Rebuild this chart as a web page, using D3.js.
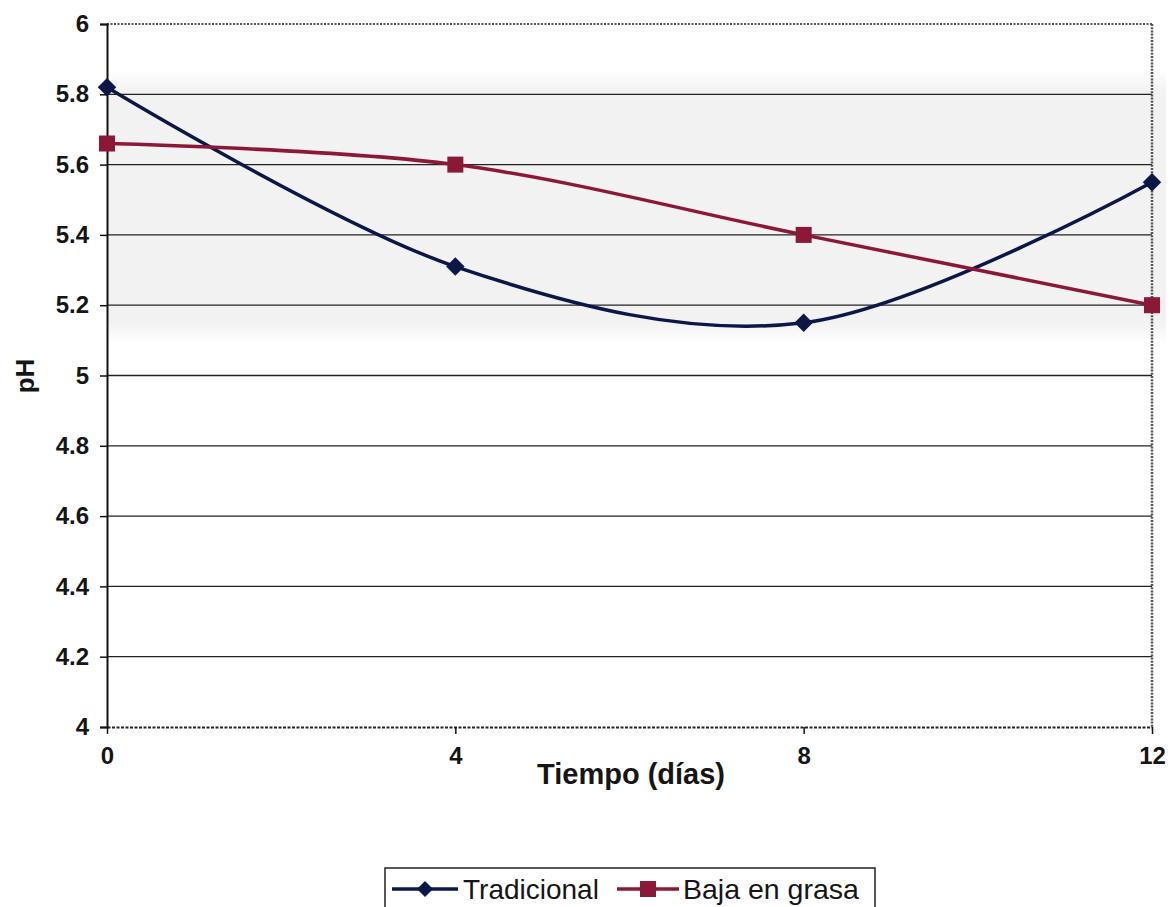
<!DOCTYPE html>
<html>
<head>
<meta charset="utf-8">
<script src="https://cdn.jsdelivr.net/npm/d3@7"></script>
<style>
  html, body { margin: 0; padding: 0; background: #fff; }
  svg { display: block; font-family: "Liberation Sans", Arial, sans-serif; }
  .axis-label { font-size: 24px; font-weight: bold; fill: #151515; font-family: "Liberation Sans", Arial, sans-serif; }
</style>
</head>
<body>
<svg id="chart" width="1171" height="907"></svg>
<script>
// pH evolution over storage time for two sausage formulations
const dias = [0, 4, 8, 12];
const tradicional = [5.82, 5.31, 5.15, 5.55];
const bajaEnGrasa = [5.66, 5.60, 5.40, 5.20];
const yTicks = [4, 4.2, 4.4, 4.6, 4.8, 5, 5.2, 5.4, 5.6, 5.8, 6];
const seriesNames = ["Tradicional", "Baja en grasa"];

(function draw() {
  const svg = d3.select("#chart");
  const plotLeft = 107, plotRight = 1152, plotTop = 24, plotBottom = 727;

  const x = d3.scaleLinear().domain([0, 12]).range([plotLeft, plotRight]);
  const y = d3.scaleLinear().domain([4, 6]).range([plotBottom, plotTop]);

  const navy = "#0b1747";
  const maroon = "#8c1838";
  const ink = "#151515";

  // faint shaded band behind the upper part of the plot
  const defs = svg.append("defs");
  const grad = defs.append("linearGradient").attr("id", "band")
    .attr("x1", 0).attr("y1", 0).attr("x2", 0).attr("y2", 1);
  grad.append("stop").attr("offset", "0").attr("stop-color", "#f2f2f2").attr("stop-opacity", 0);
  grad.append("stop").attr("offset", "0.08").attr("stop-color", "#f2f2f2").attr("stop-opacity", 1);
  grad.append("stop").attr("offset", "0.92").attr("stop-color", "#f2f2f2").attr("stop-opacity", 1);
  grad.append("stop").attr("offset", "1").attr("stop-color", "#f2f2f2").attr("stop-opacity", 0);
  svg.append("rect")
    .attr("x", plotLeft).attr("width", plotRight - plotLeft + 14)
    .attr("y", y(5.87)).attr("height", y(5.09) - y(5.87))
    .attr("fill", "url(#band)");

  // horizontal gridlines
  svg.append("g").selectAll("line")
    .data(yTicks.filter(v => v > 4 && v < 6))
    .join("line")
    .attr("x1", plotLeft).attr("x2", plotRight)
    .attr("y1", d => y(d)).attr("y2", d => y(d))
    .attr("stroke", "#222").attr("stroke-width", 1.3);

  // plot frame: dotted top and right edges
  svg.append("line").attr("x1", plotLeft).attr("x2", plotRight).attr("y1", plotTop).attr("y2", plotTop)
    .attr("stroke", "#555").attr("stroke-width", 2).attr("stroke-dasharray", "2,1.5");
  svg.append("line").attr("x1", plotRight).attr("x2", plotRight).attr("y1", plotTop).attr("y2", plotBottom)
    .attr("stroke", "#555").attr("stroke-width", 2.5).attr("stroke-dasharray", "2,1.2");

  // y axis
  const yAxis = d3.axisLeft(y).tickValues(yTicks).tickSize(7).tickPadding(11)
    .tickFormat(d => d3.format("~g")(d));
  const gy = svg.append("g").attr("transform", `translate(${plotLeft},0)`).call(yAxis)
    .attr("font-size", 24).attr("font-weight", "bold").attr("font-family", null);
  gy.select(".domain").attr("stroke", "#111").attr("stroke-width", 2);
  gy.selectAll(".tick line").attr("stroke", "#111").attr("stroke-width", 1.5);
  gy.selectAll(".tick text").attr("class", "axis-label").attr("fill", ink);

  // x axis
  const xAxis = d3.axisBottom(x).tickValues(dias).tickSize(7).tickPadding(13).tickSizeOuter(0);
  const gx = svg.append("g").attr("transform", `translate(0,${plotBottom})`).call(xAxis)
    .attr("font-size", 24).attr("font-weight", "bold").attr("font-family", null);
  gx.select(".domain").attr("stroke", "#222").attr("stroke-width", 2).attr("stroke-dasharray", "3,1.5");
  gx.selectAll(".tick line").attr("stroke", "#111").attr("stroke-width", 1.5);
  gx.selectAll(".tick text").attr("class", "axis-label").attr("fill", ink);

  // axis titles
  svg.append("text").attr("x", 631).attr("y", 784).attr("text-anchor", "middle")
    .attr("font-size", 29).attr("font-weight", "bold").attr("fill", ink)
    .text("Tiempo (días)");
  svg.append("text").attr("transform", "translate(34,376) rotate(-90)").attr("text-anchor", "middle")
    .attr("font-size", 26).attr("font-weight", "bold").attr("fill", ink)
    .text("pH");

  // smoothed series lines
  const line = d3.line().x((d, i) => x(dias[i])).y(d => y(d)).curve(d3.curveCatmullRom.alpha(0));

  svg.append("path").datum(tradicional).attr("d", line)
    .attr("fill", "none").attr("stroke", navy).attr("stroke-width", 3.5);
  svg.append("path").datum(bajaEnGrasa).attr("d", line)
    .attr("fill", "none").attr("stroke", maroon).attr("stroke-width", 3.5);

  // markers: diamonds and squares
  const diamondPath = d3.symbol().type(d3.symbolSquare).size(170);
  svg.append("g").selectAll("path").data(tradicional).join("path")
    .attr("d", diamondPath)
    .attr("transform", (d, i) => `translate(${x(dias[i])},${y(d)}) rotate(45)`)
    .attr("fill", navy);
  svg.append("g").selectAll("rect").data(bajaEnGrasa).join("rect")
    .attr("x", (d, i) => x(dias[i]) - 8).attr("y", d => y(d) - 8)
    .attr("width", 16).attr("height", 16)
    .attr("fill", maroon);

  // legend
  const lg = svg.append("g");
  lg.append("rect").attr("x", 385).attr("y", 868).attr("width", 490).attr("height", 50)
    .attr("fill", "#fff").attr("stroke", "#222").attr("stroke-width", 1.5);
  lg.append("line").attr("x1", 392).attr("x2", 458).attr("y1", 889).attr("y2", 889)
    .attr("stroke", navy).attr("stroke-width", 3.5);
  lg.append("path").attr("d", d3.symbol().type(d3.symbolSquare).size(130))
    .attr("transform", "translate(425,889) rotate(45)").attr("fill", navy);
  lg.append("text").attr("x", 463).attr("y", 899).attr("font-size", 28).attr("fill", ink)
    .text(seriesNames[0]);
  lg.append("line").attr("x1", 617).attr("x2", 679).attr("y1", 889).attr("y2", 889)
    .attr("stroke", maroon).attr("stroke-width", 3.5);
  lg.append("rect").attr("x", 640).attr("y", 881).attr("width", 16).attr("height", 16).attr("fill", maroon);
  lg.append("text").attr("x", 683).attr("y", 899).attr("font-size", 28.5).attr("fill", ink)
    .text(seriesNames[1]);
})();
</script>
</body>
</html>
